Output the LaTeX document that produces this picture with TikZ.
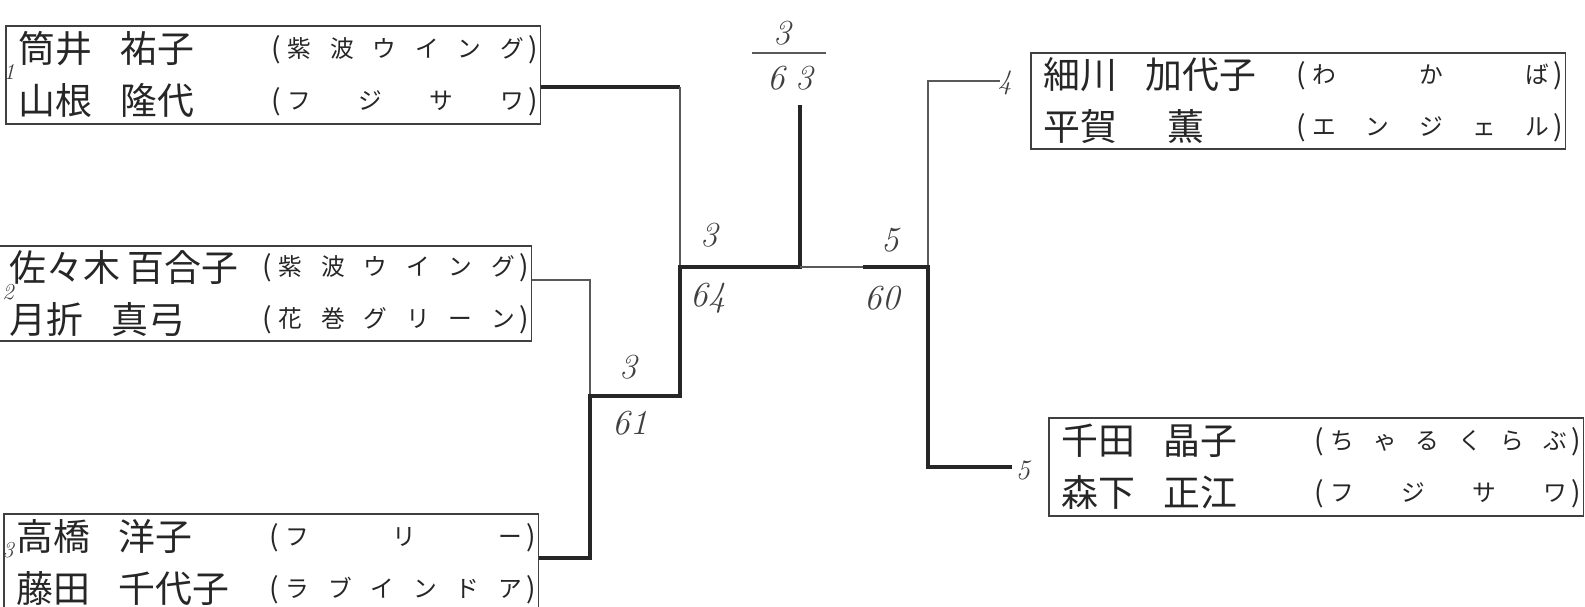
\documentclass[tikz,border=0pt]{standalone}
\usepackage{fontspec}
\newfontfamily\jpfont{Noto Sans CJK JP}
\usetikzlibrary{positioning}
\newcommand{\bigp}[1]{{\fontsize{16}{16}\selectfont\raisebox{-0.5pt}{#1}}}
\newcommand{\entryrow}[3]{\hspace{0.2cm}\makebox[2.04cm][l]{#1}\makebox[3.02cm][l]{#2}\raisebox{3pt}{\makebox[5.34cm][s]{\fontsize{13.5}{14}\selectfont\bigp{(}\hspace{0.3em}#3\hspace{0.2em}\bigp{)}}}}
\tikzset{
    teambox/.style = {rectangle, draw=black!75, line width=0.9pt, minimum width=10.7cm, minimum height=1.96cm,
                      inner xsep=0pt, inner ysep=0pt, align=left, anchor=north west, text=black!85,
                      font=\jpfont\fontsize{21}{29.6}\selectfont},
    score/.style = {text=black!75, font=\fontsize{20}{24}\selectfont\itshape},
    seed/.style = {text=black!75, font=\fontsize{13}{14}\selectfont\itshape},
    edgew/.style = {line width=2.2pt, black!85}, % winner
    edgel/.style = {line width=0.7pt, black!65}, % loser
}
\begin{document}
\begin{tikzpicture}[x=0.02cm, y=-0.02cm]
\useasboundingbox (0,0) rectangle (1585,606);
%
\node[teambox] (t1) at (5,25)
  {\entryrow{筒井}{祐子}{紫\hfil 波\hfil ウ\hfil イ\hfil ン\hfil グ}\\
   \entryrow{山根}{隆代}{フ\hfil ジ\hfil サ\hfil ワ}};
\node[teambox, minimum height=1.9cm] (t2) at (-4,245)
  {\entryrow{佐々木\hspace{0.2em}百合子}{}{紫\hfil 波\hfil ウ\hfil イ\hfil ン\hfil グ}\\
   \entryrow{月折}{真弓}{花\hfil 巻\hfil グ\hfil リ\hfil ー\hfil ン}};
\node[teambox] (t3) at (3,513)
  {\entryrow{高橋}{洋子}{フ\hfil リ\hfil ー}\\
   \entryrow{藤田}{千代子}{ラ\hfil ブ\hfil イ\hfil ン\hfil ド\hfil ア}};
\node[teambox, minimum height=1.92cm] (t4) at (1030,52)
  {\entryrow{細川}{加代子}{わ\hfil か\hfil ば}\\
   \entryrow{平賀}{\hspace{0.6em}薫}{エ\hfil ン\hfil ジ\hfil ェ\hfil ル}};
\node[teambox] (t5) at (1048,417)
  {\entryrow{千田}{晶子}{ち\hfil ゃ\hfil る\hfil く\hfil ら\hfil ぶ}\\
   \entryrow{森下}{正江}{フ\hfil ジ\hfil サ\hfil ワ}};
%
\coordinate (j1) at (680,87);
\coordinate (j2) at (590,280);
\coordinate (j3) at (590,558);
\coordinate (m1) at (590,396);
\coordinate (m2) at (680,396);
\coordinate (s1) at (680,267);
\coordinate (f0) at (800,267);
\coordinate (f1) at (800,105);
\coordinate (s3) at (863,267);
\coordinate (s2) at (928,267);
\coordinate (r1) at (928,81);
\coordinate (r2) at (928,467);
\coordinate (e4) at (1000,81);
\coordinate (e5) at (1012,467);
\coordinate (b1) at (752,53);
\coordinate (b2) at (826,53);
%
\draw[edgew] (t1.east |- j1) -- (j1);
\draw[edgel] (j1) -- (s1);
\draw[edgel] (t2.east |- j2) -- (j2) -- (m1);
\draw[edgew] (t3.east |- j3) -- (j3) -- (m1) -- (m2) -- (s1) -- (f0) -- (f1);
\draw[edgel] (f0) -- (s2) -- (r1) -- (e4);
\draw[edgew] (s3) -- (s2) -- (r2) -- (e5);
\draw[edgel] (b1) -- (b2);
%
\node[score] (q1) at (628,367) {3};
\node[score] (q2) at (630,423) {61};
\node[score] (q3) at (709,235) {3};
\node[score] (q4) at (708,298) {64};
\node[score] (q5) at (890,240) {5};
\node[score] (q6) at (882,298) {60};
\node[score] (q7) at (782,33) {3};
\node[score] (q8) at (790,78) {6\hspace{0.3em}3};
%
\node[seed] (n1) at (9,72) {1};
\node[seed] (n2) at (8,292) {2};
\node[seed] (n3) at (8,550) {3};
\node[seed, font=\fontsize{16}{18}\selectfont\itshape] (n4) at (1005,83) {4};
\node[seed, font=\fontsize{16}{18}\selectfont\itshape] (n5) at (1023,470) {5};
\end{tikzpicture}
\end{document}
